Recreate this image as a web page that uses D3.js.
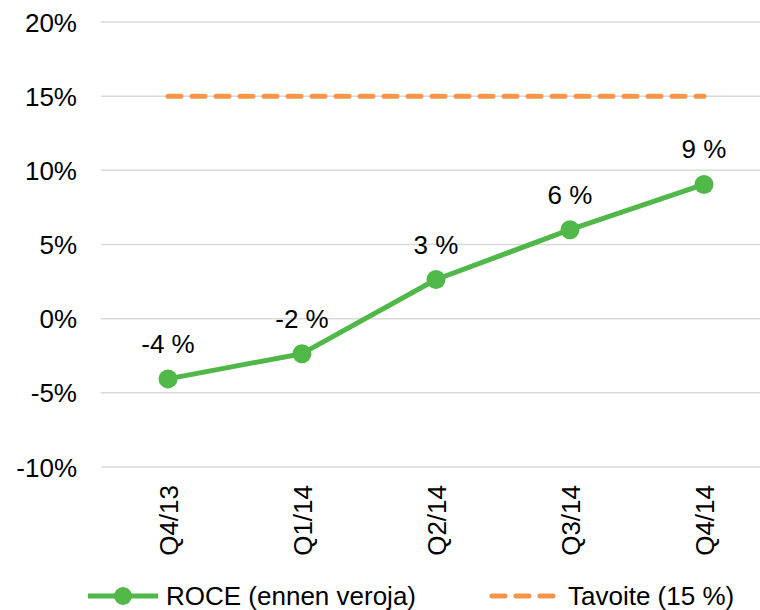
<!DOCTYPE html>
<html><head><meta charset="utf-8">
<script src="https://cdn.jsdelivr.net/npm/d3@7"></script>
<style>body{margin:0;background:#fff}svg{display:block}text{font-family:"Liberation Sans",Arial,sans-serif}</style>
</head><body>
<svg id="c" width="760" height="610"></svg>
<script>
const categories = ["Q4/13","Q1/14","Q2/14","Q3/14","Q4/14"];
const roce = [-4.06,-2.36,2.64,6.0,9.05];
const roceLabels = ["-4 %","-2 %","3 %","6 %","9 %"];
const target = [15,15,15,15,15];
const yTicks = [-10,-5,0,5,10,15,20];
const seriesNames = ["ROCE (ennen veroja)","Tavoite (15 %)"];

const green = "#50B848", orange = "#F79646";
const svg = d3.select("#c");
const x = d3.scalePoint().domain(categories).range([101,771]).padding(0.5);
const y = d3.scaleLinear().domain([-10,20]).range([467,22]);

// gridlines
svg.append("g").selectAll("line").data(yTicks).join("line")
  .attr("x1",101).attr("x2",771).attr("y1",d=>y(d)).attr("y2",d=>y(d))
  .attr("stroke","#d9d9d9").attr("stroke-width",1.5);

// y axis labels
const yAxis = d3.axisLeft(y).tickValues(yTicks).tickFormat(d=>d+"%").tickSize(0).tickPadding(24);
const ga = svg.append("g").attr("transform","translate(101,0)").call(yAxis);
ga.select(".domain").remove();
ga.selectAll("text").attr("font-size",26).attr("fill","#000").attr("font-family","Liberation Sans, Arial, sans-serif").attr("dy","0.35em");

// x axis labels
const xAxis = d3.axisBottom(x).tickSize(0).tickPadding(0);
const gx = svg.append("g").attr("transform","translate(0,485)").call(xAxis);
gx.select(".domain").remove();
gx.selectAll("text").attr("font-size",26).attr("fill","#000").attr("font-family","Liberation Sans, Arial, sans-serif")
  .attr("text-anchor","end").attr("transform","rotate(-90)").attr("x",0).attr("y",0).attr("dy","0.35em");

// target line
const line = d3.line().x((d,i)=>x(categories[i])).y(d=>y(d));
svg.append("path").datum(target).attr("d",line).attr("fill","none")
  .attr("stroke",orange).attr("stroke-width",5).attr("stroke-linecap","round").attr("stroke-dasharray","13,11");

// roce line
svg.append("path").datum(roce).attr("d",line).attr("fill","none")
  .attr("stroke",green).attr("stroke-width",5).attr("stroke-linejoin","round");
svg.append("g").selectAll("circle").data(roce).join("circle")
  .attr("cx",(d,i)=>x(categories[i])).attr("cy",d=>y(d)).attr("r",9.5).attr("fill",green);
svg.append("g").selectAll("text").data(roce).join("text")
  .attr("x",(d,i)=>x(categories[i])).attr("y",d=>y(d)-26)
  .attr("text-anchor","middle").attr("font-size",26).attr("fill","#000").text((d,i)=>roceLabels[i]);

// legend
const lg = svg.append("g");
lg.append("line").attr("x1",88).attr("x2",158).attr("y1",596).attr("y2",596).attr("stroke",green).attr("stroke-width",5);
lg.append("circle").attr("cx",123).attr("cy",596).attr("r",9).attr("fill",green);
lg.append("text").attr("x",166).attr("y",596).attr("dy","0.35em").attr("font-size",26).text(seriesNames[0]);
lg.append("line").attr("x1",492).attr("x2",553).attr("y1",596).attr("y2",596).attr("stroke",orange).attr("stroke-width",5)
  .attr("stroke-linecap","round").attr("stroke-dasharray","13,11");
lg.append("text").attr("x",568).attr("y",596).attr("dy","0.35em").attr("font-size",26).text(seriesNames[1]);
</script>
</body></html>
